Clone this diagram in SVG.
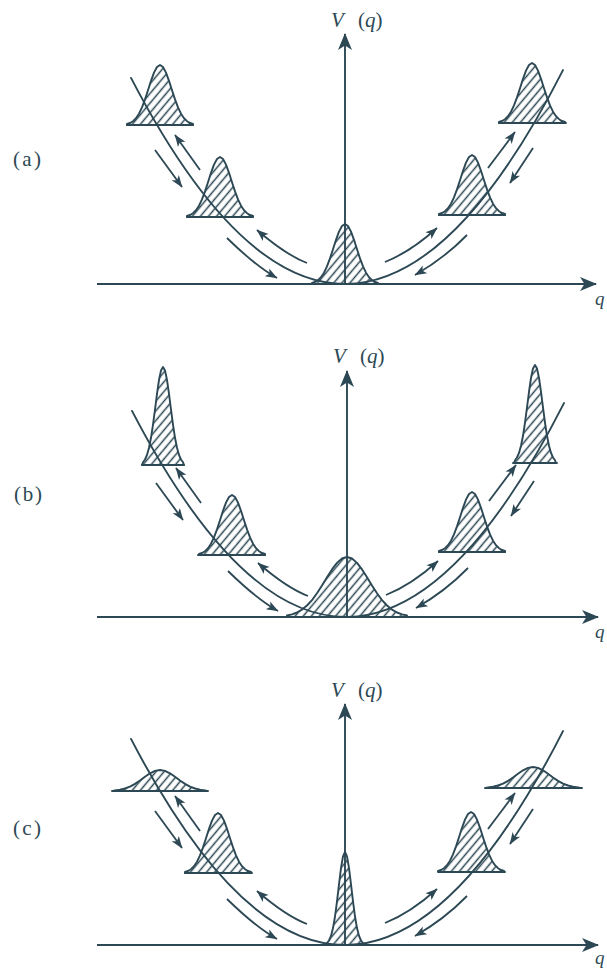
<svg xmlns="http://www.w3.org/2000/svg" xmlns:xlink="http://www.w3.org/1999/xlink" width="607" height="972" viewBox="0 0 607 972">
<style>
.ln{fill:none;stroke:#2c4854;stroke-width:1.9;stroke-linecap:round}
.ax{fill:none;stroke:#2c4854;stroke-width:1.9;marker-end:url(#axh)}
.ar{fill:none;stroke:#2c4854;stroke-width:1.8;marker-end:url(#ah)}
.pk{fill:url(#hatch);stroke:#2c4854;stroke-width:1.9;stroke-linejoin:round}
.lbl{font-family:"Liberation Serif","Times New Roman",serif;font-size:21px;fill:#2c4854}
.it{font-style:italic}
.qq{font-family:"Liberation Serif","Times New Roman",serif;font-size:19px;font-style:italic;fill:#2c4854}
</style>
<defs>
<marker id="ah" markerUnits="userSpaceOnUse" markerWidth="12" markerHeight="9" refX="11.5" refY="4.5" orient="auto" overflow="visible">
<path d="M0,0 L12,4.5 L0,9 L3,4.5 Z" fill="#2c4854"/>
</marker>
<marker id="axh" markerUnits="userSpaceOnUse" markerWidth="17" markerHeight="14" refX="16" refY="7" orient="auto" overflow="visible">
<path d="M0,0 L17,7 L0,14 L4.5,7 Z" fill="#2c4854"/>
</marker>
<pattern id="hatch" width="6.2" height="6.2" patternUnits="userSpaceOnUse" patternTransform="rotate(40)">
<line x1="3.1" y1="-1" x2="3.1" y2="7.2" stroke="#2c4854" stroke-width="1.5"/>
</pattern>
<path id="g-std" d="M-33,0 L-33,-1 -30,-2 -27,-3.8 -24,-6.8 -21,-11.3 -18,-17.6 -15,-25.6 -12,-34.8 -9,-44.2 -6,-52.4 -3,-58 0,-60 3,-58 6,-52.4 9,-44.2 12,-34.8 15,-25.6 18,-17.6 21,-11.3 24,-6.8 27,-3.8 30,-2 33,-1 33,0 Z"/>
<path id="g-tall" d="M-21,0 L-20,-2.8 -18,-5.5 -16,-10.1 -14,-17.2 -12,-27.2 -10,-40.3 -8,-55.5 -6,-71.2 -4,-85 -2,-94.6 0,-98 2,-94.6 4,-85 6,-71.2 8,-55.5 10,-40.3 12,-27.2 14,-17.2 16,-10.1 18,-5.5 20,-2.8 21,0 Z"/>
<path id="g-narrow" d="M-18,0 L-18,-2 -16,-4.5 -14,-9.1 -12,-16.9 -10,-28.5 -8,-43.6 -6,-60.7 -4,-77 -2,-88.7 0,-93 2,-88.7 4,-77 6,-60.7 8,-43.6 10,-28.5 12,-16.9 14,-9.1 16,-4.5 18,-2 18,0 Z"/>
<path id="g-low" d="M-47,0 L-45,-0.6 -40,-1.3 -35,-2.5 -30,-4.4 -25,-7.1 -20,-10.5 -15,-14.2 -10,-17.7 -5,-20.1 0,-21 5,-20.1 10,-17.7 15,-14.2 20,-10.5 25,-7.1 30,-4.4 35,-2.5 40,-1.3 45,-0.6 47,0 Z"/>
<path id="g-wide" d="M-60,0 L-60,-1.5 -55,-2.6 -50,-4.5 -45,-7.4 -40,-11.5 -35,-16.9 -30,-23.7 -25,-31.5 -20,-39.7 -15,-47.6 -10,-54.1 -5,-58.5 0,-60 5,-58.5 10,-54.1 15,-47.6 20,-39.7 25,-31.5 30,-23.7 35,-16.9 40,-11.5 45,-7.4 50,-4.5 55,-2.6 60,-1.5 60,0 Z"/>
<g id="well">
<path class="ln" d="M131,77.9 Q347,493.9 563,70.1"/>
<path class="ar" d="M155,150 L182,187"/>
<path class="ar" d="M200,170 L175,135"/>
<path class="ar" d="M227,238 Q255.6,266 277,278"/>
<path class="ar" d="M307,263 Q286,255 257,230"/>
<path class="ar" d="M385,262 Q410.6,251.8 437,228"/>
<path class="ar" d="M467,235 Q444,258.5 415,275"/>
<path class="ar" d="M488,168 L515,132"/>
<path class="ar" d="M533,148 L510,183"/>
</g>
</defs>
<rect width="607" height="972" fill="#ffffff"/>

<g id="panel-a">
<g id="a-packets">
<use xlink:href="#g-std" href="#g-std" class="pk" transform="translate(160,125)"/>
<use xlink:href="#g-std" href="#g-std" class="pk" transform="translate(220,217)"/>
<use xlink:href="#g-std" href="#g-std" class="pk" transform="translate(345,284)"/>
<use xlink:href="#g-std" href="#g-std" class="pk" transform="translate(472,215)"/>
<use xlink:href="#g-std" href="#g-std" class="pk" transform="translate(532,123)"/>
<path class="ln" d="M127,125 H193 M187,217 H253 M439,215 H505 M499,123 H566"/>
</g>
<g id="a-connectors">
<use xlink:href="#well" href="#well"/>
<path class="ax" d="M97,284 H596"/>
<path class="ax" d="M345,284 V34"/>
</g>
<text class="lbl" x="13" y="166" textLength="28" lengthAdjust="spacing">(a)</text>
<text class="lbl" x="331" y="27"><tspan class="it">V</tspan><tspan x="358">(</tspan><tspan class="it">q</tspan>)</text>
<text class="qq" x="595" y="305">q</text>
</g>

<g id="panel-b">
<g id="b-packets">
<use xlink:href="#g-tall" href="#g-tall" class="pk" transform="translate(163,465)"/>
<use xlink:href="#g-std" href="#g-std" class="pk" transform="translate(232,555)"/>
<use xlink:href="#g-wide" href="#g-wide" class="pk" transform="translate(347,617)"/>
<use xlink:href="#g-std" href="#g-std" class="pk" transform="translate(472,552)"/>
<use xlink:href="#g-tall" href="#g-tall" class="pk" transform="translate(535,463)"/>
<path class="ln" d="M142,465 H184 M198,555 H265 M439,552 H505 M513,463 H557"/>
</g>
<g id="b-connectors">
<use xlink:href="#well" href="#well" transform="translate(1,333)"/>
<path class="ax" d="M97,617 H598"/>
<path class="ax" d="M347,617 V371"/>
</g>
<text class="lbl" x="14" y="501" textLength="28" lengthAdjust="spacing">(b)</text>
<text class="lbl" x="333" y="363"><tspan class="it">V</tspan><tspan x="360">(</tspan><tspan class="it">q</tspan>)</text>
<text class="qq" x="595" y="638">q</text>
</g>

<g id="panel-c">
<g id="c-packets">
<use xlink:href="#g-low" href="#g-low" class="pk" transform="translate(160,791)"/>
<use xlink:href="#g-std" href="#g-std" class="pk" transform="translate(218,873)"/>
<use xlink:href="#g-narrow" href="#g-narrow" class="pk" transform="translate(345,945)"/>
<use xlink:href="#g-std" href="#g-std" class="pk" transform="translate(471,872)"/>
<use xlink:href="#g-low" href="#g-low" class="pk" transform="translate(533,788)"/>
<path class="ln" d="M112,791 H208 M185,873 H252 M439,872 H505 M485,788 H582"/>
</g>
<g id="c-connectors">
<use xlink:href="#well" href="#well" transform="translate(0,661)"/>
<path class="ax" d="M97,945 H598"/>
<path class="ax" d="M345,945 V704"/>
</g>
<text class="lbl" x="13" y="835" textLength="28" lengthAdjust="spacing">(c)</text>
<text class="lbl" x="331" y="697"><tspan class="it">V</tspan><tspan x="358">(</tspan><tspan class="it">q</tspan>)</text>
<text class="qq" x="595" y="964">q</text>
</g>
</svg>
